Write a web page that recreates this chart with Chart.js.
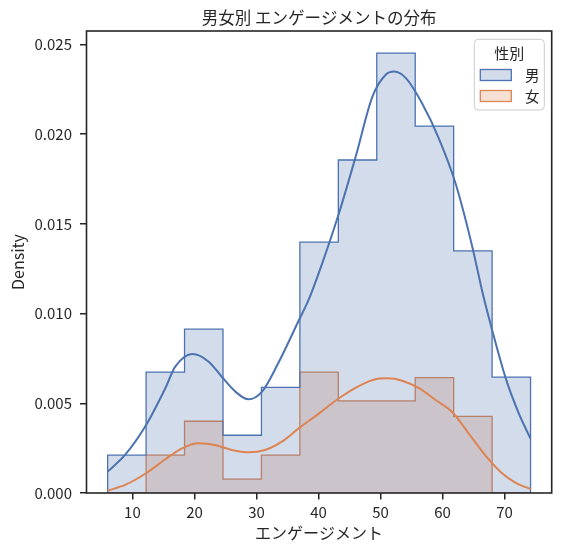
<!DOCTYPE html>
<html><head><meta charset="utf-8">
<script src="https://cdn.jsdelivr.net/npm/chart.js@4.4.1/dist/chart.umd.min.js"></script>
<style>html,body{margin:0;padding:0;background:#fff}#wrap{width:562px;height:552px}</style>
</head><body><div id="wrap"><canvas id="c" width="562" height="552"></canvas></div>
<script>
const chartTitle = '男女別 エンゲージメントの分布';
const xAxisLabel = 'エンゲージメント';
const yAxisLabel = 'Density';
const legendTitle = '性別';
const seriesNames = ['男', '女'];

const binEdges = [6.0, 12.2, 18.4, 24.6, 30.8, 37.0, 43.2, 49.4, 55.6, 61.8, 68.0, 74.2];
const maleDensity   = [0.00211, 0.00674, 0.00913, 0.00322, 0.00589, 0.01398, 0.01856, 0.02452, 0.02045, 0.01349, 0.00646];
const femaleDensity = [0, 0.00211, 0.00400, 0.00077, 0.00211, 0.00674, 0.00513, 0.00513, 0.00643, 0.00427, 0];

const maleKdeX = [6.0, 8.8, 12.2, 15.3, 16.9, 19.7, 22.3, 24.4, 26.6, 28.7, 30.9, 33.5, 36.8, 38.4, 40.6, 43.3, 46.0, 48.7, 50.8, 52.2, 54.1, 56.7, 59.4, 62.1, 64.8, 66.5, 68.0, 70.2, 72.3, 74.2];
const maleKdeY = [0.00119, 0.00212, 0.00379, 0.00584, 0.00704, 0.00775, 0.00732, 0.00648, 0.00565, 0.00522, 0.00565, 0.00723, 0.00960, 0.01076, 0.01280, 0.01559, 0.01875, 0.02209, 0.02330, 0.02349, 0.02312, 0.02172, 0.01977, 0.01726, 0.01373, 0.01110, 0.00909, 0.00639, 0.00444, 0.00303];
const femaleKdeX = [6.0, 8.8, 12.2, 15.3, 18.0, 20.6, 23.3, 26.0, 28.7, 31.4, 34.1, 36.8, 40.1, 43.3, 46.5, 49.2, 51.1, 53.5, 56.2, 58.9, 61.6, 64.2, 66.9, 69.6, 71.8, 74.2];
const femaleKdeY = [0.00013, 0.00045, 0.00110, 0.00188, 0.00249, 0.00277, 0.00268, 0.00240, 0.00227, 0.00240, 0.00286, 0.00360, 0.00444, 0.00528, 0.00596, 0.00634, 0.00639, 0.00626, 0.00584, 0.00518, 0.00450, 0.00333, 0.00210, 0.00110, 0.00057, 0.00022];

const xTicks = [10, 20, 30, 40, 50, 60, 70];
const yTicks = [0, 0.005, 0.010, 0.015, 0.020, 0.025];
const xRange = [2.59, 77.61];
const yRange = [0, 0.02575];

const BLUE = '#4c72b0', ORANGE = '#dd8452';
const BLUE_FILL = 'rgba(76,114,176,0.25)', ORANGE_FILL = 'rgba(221,132,82,0.25)';
const TEXT = '#262626';
const FONT = '"Noto Sans CJK JP", "Noto Sans", sans-serif';

function stepPoints(edges, heights) {
  const pts = [{x: edges[0], y: 0}];
  for (let i = 0; i < heights.length; i++) pts.push({x: edges[i], y: heights[i]});
  pts.push({x: edges[edges.length - 1], y: heights[heights.length - 1]});
  pts.push({x: edges[edges.length - 1], y: 0});
  return pts;
}
function curvePoints(xs, ys) { return xs.map((x, i) => ({x, y: ys[i]})); }

const decor = {
  id: 'decor',
  afterDraw(chart) {
    const {ctx, chartArea: a} = chart;
    ctx.save();
    ctx.strokeStyle = TEXT; ctx.lineWidth = 1.6;
    ctx.strokeRect(a.left, a.top, a.right - a.left, a.bottom - a.top);
    ctx.fillStyle = TEXT; ctx.textAlign = 'center'; ctx.textBaseline = 'middle';
    ctx.font = '16.5px ' + FONT;
    ctx.fillText(chartTitle, (a.left + a.right) / 2, a.top - 13.7);
    // legend
    const L = a.right - 77.4, T = a.top + 8.3, W = 70, H = 70.7;
    ctx.beginPath(); ctx.roundRect(L, T, W, H, 4);
    ctx.fillStyle = 'rgba(255,255,255,0.8)'; ctx.fill();
    ctx.strokeStyle = '#cccccc'; ctx.lineWidth = 1; ctx.stroke();
    ctx.fillStyle = TEXT; ctx.font = '15px ' + FONT; ctx.textAlign = 'center';
    ctx.fillText(legendTitle, L + W / 2, T + 14);
    const cols = [[BLUE_FILL, BLUE], [ORANGE_FILL, ORANGE]];
    const cy = [T + 35.7, T + 56.7];
    for (let i = 0; i < 2; i++) {
      ctx.fillStyle = cols[i][0]; ctx.fillRect(L + 6, cy[i] - 5.5, 31, 11);
      ctx.strokeStyle = cols[i][1]; ctx.lineWidth = 1.3; ctx.strokeRect(L + 6, cy[i] - 5.5, 31, 11);
      ctx.fillStyle = TEXT; ctx.font = '14.5px ' + FONT; ctx.textAlign = 'left';
      ctx.fillText(chart.data.datasets[i].label, L + 50.7, cy[i]);
    }
    ctx.restore();
  }
};

new Chart(document.getElementById('c'), {
  type: 'line',
  data: {
    datasets: [
      {label: seriesNames[0], data: stepPoints(binEdges, maleDensity), stepped: 'before', fill: 'origin',
       backgroundColor: BLUE_FILL, borderColor: BLUE, borderWidth: 1.3, pointRadius: 0, order: 2},
      {label: seriesNames[1], data: stepPoints(binEdges, femaleDensity), stepped: 'before', fill: 'origin',
       backgroundColor: ORANGE_FILL, borderColor: ORANGE, borderWidth: 1.3, pointRadius: 0, order: 3},
      {label: seriesNames[0] + ' KDE', data: curvePoints(maleKdeX, maleKdeY), cubicInterpolationMode: 'monotone', fill: false,
       borderColor: BLUE, borderWidth: 2, pointRadius: 0, order: 0},
      {label: seriesNames[1] + ' KDE', data: curvePoints(femaleKdeX, femaleKdeY), cubicInterpolationMode: 'monotone', fill: false,
       borderColor: ORANGE, borderWidth: 2, pointRadius: 0, order: 1}
    ]
  },
  options: {
    responsive: false, animation: false, events: [],
    layout: {padding: {top: 31, right: 10.3, left: 0, bottom: 0}},
    plugins: {legend: {display: false}, title: {display: false}, tooltip: {enabled: false}},
    scales: {
      x: {
        type: 'linear', position: 'bottom', min: xRange[0], max: xRange[1],
        afterBuildTicks: s => { s.ticks = xTicks.map(v => ({value: v})); },
        afterFit: s => { s.height = 59; },
        ticks: {color: TEXT, font: {family: FONT, size: 15}, padding: 3.6, callback: v => String(v)},
        grid: {drawOnChartArea: false, drawTicks: true, tickLength: 6.5, color: TEXT, lineWidth: 1.5},
        border: {display: false},
        title: {display: true, text: xAxisLabel, color: TEXT, font: {family: FONT, size: 16}, padding: {top: 0, bottom: 9.4}}
      },
      y: {
        type: 'linear', position: 'left', min: yRange[0], max: yRange[1],
        afterBuildTicks: s => { s.ticks = yTicks.map(v => ({value: v})); },
        afterFit: s => { s.width = 86.5; },
        ticks: {color: TEXT, font: {family: FONT, size: 15}, padding: 8, callback: v => Number(v).toFixed(3)},
        grid: {drawOnChartArea: false, drawTicks: true, tickLength: 6.5, color: TEXT, lineWidth: 1.5},
        border: {display: false},
        title: {display: true, text: yAxisLabel, color: TEXT, font: {family: FONT, size: 16}, padding: {top: 8.4, bottom: 0}}
      }
    }
  },
  plugins: [decor]
});
</script></body></html>
